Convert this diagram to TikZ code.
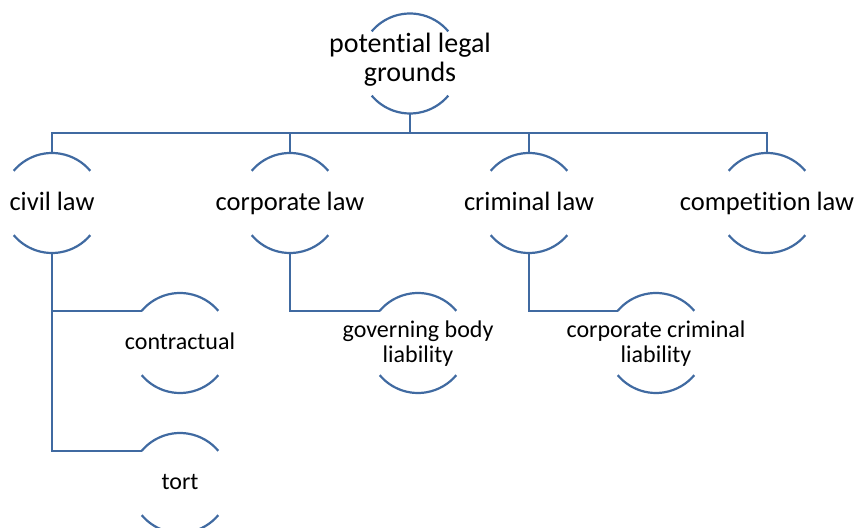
\documentclass[tikz,border=0pt]{standalone}
\usepackage{fontspec}
\setmainfont{Carlito}[Ligatures=NoCommon]
\definecolor{lineblue}{RGB}{64,106,161}
\begin{document}
\begin{tikzpicture}[x=1pt,y=1pt,
  hnode/.style={circle,draw=none,minimum size=100pt,inner sep=0pt,outer sep=0pt},
  lbl/.style={inner sep=0pt,align=center,text=black,anchor=base},
  toptext/.style={lbl,font=\fontsize{28}{29}\selectfont},
  midtext/.style={lbl,font=\fontsize{26.5}{28}\selectfont},
  lowtext/.style={lbl,font=\fontsize{24}{25}\selectfont},
  conn/.style={draw=lineblue,line width=2.2pt},
  arcs/.style={draw=lineblue,line width=2.2pt}]
\useasboundingbox (0,0) rectangle (855,528);
\node[hnode] (top) at (410,464.5) {};
\node[hnode] (civil) at (52,325) {};
\node[hnode] (corp) at (290,325) {};
\node[hnode] (crim) at (529,325) {};
\node[hnode] (comp) at (767,325) {};
\node[hnode] (contr) at (180,185) {};
\node[hnode] (tort) at (180,45) {};
\node[hnode] (gov) at (418,185) {};
\node[hnode] (ccl) at (656,185) {};
\foreach \n in {top,civil,corp,crim,comp,contr,tort,gov,ccl}{
  \draw[arcs] (\n.140) arc (140:40:50pt);
  \draw[arcs] (\n.-140) arc (-140:-40:50pt);
}
\node[toptext] (top-t) at ([yshift=-18.5pt]top.center) {potential legal\\grounds};
\node[midtext] (civil-t) at ([yshift=-8pt]civil.center) {civil law};
\node[midtext] (corp-t) at ([yshift=-8pt]corp.center) {corporate law};
\node[midtext] (crim-t) at ([yshift=-8pt]crim.center) {criminal law};
\node[midtext] (comp-t) at ([yshift=-8pt]comp.center) {competition law};
\node[lowtext] (contr-t) at ([yshift=-7pt]contr.center) {contractual};
\node[lowtext] (tort-t) at ([yshift=-7pt]tort.center) {tort};
\node[lowtext] (gov-t) at ([yshift=-20pt]gov.center) {governing body\\liability};
\node[lowtext] (ccl-t) at ([yshift=-20pt]ccl.center) {corporate criminal\\liability};
\coordinate (bus) at (410,395);
\draw[conn] (top.south) -- (bus);
\draw[conn] (civil.north) |- (bus) -| (comp.north);
\draw[conn] (corp.north) -- (corp.north |- bus);
\draw[conn] (crim.north) -- (crim.north |- bus);
\draw[conn] (civil.south) |- (contr.140);
\draw[conn] (civil.south) |- (tort.140);
\draw[conn] (corp.south) |- (gov.140);
\draw[conn] (crim.south) |- (ccl.140);
\end{tikzpicture}
\end{document}
